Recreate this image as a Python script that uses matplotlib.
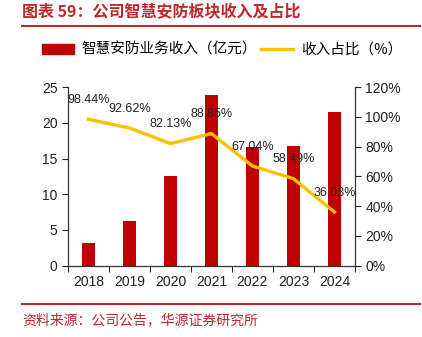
import numpy as np
import matplotlib.pyplot as plt
from matplotlib.lines import Line2D

plt.rcParams['font.family'] = ['Noto Sans CJK SC', 'DejaVu Sans']

# Data
years = ["2018", "2019", "2020", "2021", "2022", "2023", "2024"]
revenue = [3.2, 6.3, 12.5, 23.9, 16.6, 16.7, 21.5]
share = [98.44, 92.62, 82.13, 88.85, 67.04, 58.49, 36.03]

bar_color = "#C00000"
line_color = "#FFC000"
title_color = "#C0272D"
num_font = ["Liberation Sans", "DejaVu Sans"]

fig = plt.figure(figsize=(4.22, 3.37), dpi=100)
ax = fig.add_axes([0.161, 0.212, 0.680, 0.529])
ax2 = ax.twinx()

x = np.arange(len(years))
ax.bar(x, revenue, 0.31, color=bar_color, zorder=2)
ax2.plot(x, share, color=line_color, lw=2.4, zorder=3)

for xi, v in zip(x, share):
    ax2.annotate(f"{v:.2f}%", (xi, v), xytext=(0, 14), textcoords="offset points",
                 ha="center", va="center", fontsize=9, color="#222222",
                 family=num_font)

ax.set_xlim(-0.5, len(years) - 0.5)
ax.set_ylim(0, 25)
ax.set_yticks(np.arange(0, 26, 5))
ax2.set_ylim(0, 120)
ax2.set_yticks(np.arange(0, 121, 20))
ax2.set_yticklabels([f"{v}%" for v in range(0, 121, 20)])

ax.set_xticks(x)
ax.set_xticklabels(years)
ax.set_xticks(np.arange(-0.5, len(years), 1), minor=True)
ax.tick_params(axis="x", which="major", length=0, pad=7)
ax.tick_params(axis="x", which="minor", length=4, direction="out")

for a in (ax, ax2):
    a.tick_params(axis="y", length=4, direction="out", labelsize=10, colors="#222222")
    a.tick_params(axis="x", labelsize=10, colors="#222222")
    for lbl in a.get_xticklabels() + a.get_yticklabels():
        lbl.set_family(num_font)
    a.spines["top"].set_visible(False)
    for s in a.spines.values():
        s.set_color("#333333")

ax.set_zorder(ax2.get_zorder() - 1)
ax2.patch.set_visible(False)
ax.patch.set_visible(False)

# Legend
handles = [plt.Rectangle((0, 0), 1, 1, color=bar_color),
           Line2D([0], [0], color=line_color, lw=2.4)]
fig.legend(handles, ["智慧安防业务收入（亿元）", "收入占比（%）"], loc="center",
           bbox_to_anchor=(0.526, 1 - 50 / 337), ncol=2, frameon=False,
           fontsize=10.5, handlelength=2.2, columnspacing=0.3, handletextpad=0.5)

# Title and decorations
fig.text(22 / 422, 1 - 12 / 337, "图表 59：公司智慧安防板块收入及占比", color=title_color,
         fontsize=11.5, fontweight="bold", va="center", ha="left")
fig.add_artist(Line2D([22 / 422, 420 / 422], [1 - 26 / 337] * 2,
                      color=title_color, lw=1.5, zorder=10))
fig.add_artist(Line2D([22 / 422, 420 / 422], [1 - 304 / 337] * 2,
                      color=title_color, lw=1.5, zorder=10))
fig.text(22 / 422, 1 - 320 / 337, "资料来源：公司公告，华源证券研究所", color=title_color,
         fontsize=10, va="center", ha="left")

fig.savefig("out.png", dpi=100)
